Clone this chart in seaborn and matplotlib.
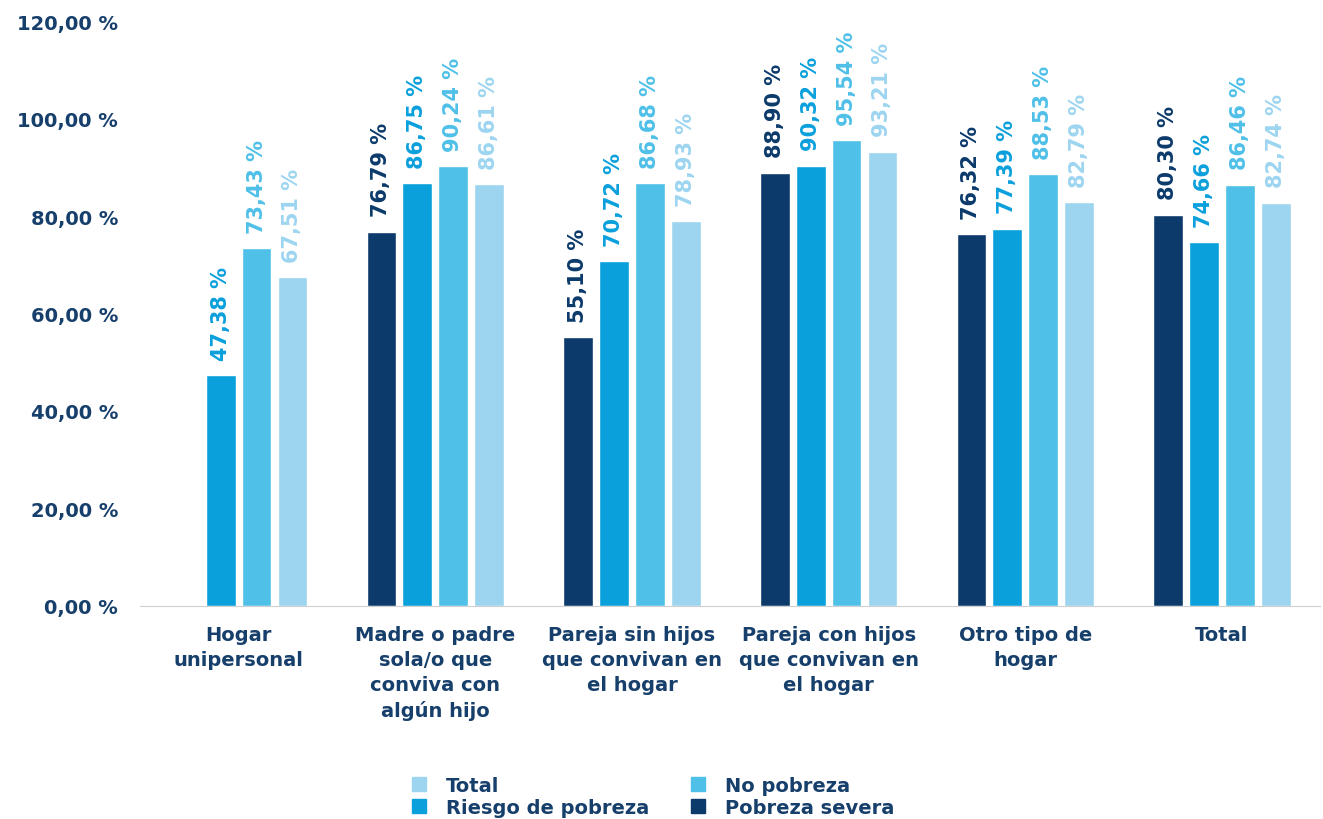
import pandas as pd
import matplotlib.pyplot as plt
import seaborn as sns
from matplotlib.lines import Line2D

# Data
categorias = ['Hogar\nunipersonal', 'Madre o padre\nsola/o que\nconviva con\nalgún hijo',
              'Pareja sin hijos\nque convivan en\nel hogar', 'Pareja con hijos\nque convivan en\nel hogar',
              'Otro tipo de\nhogar', 'Total']
pobreza_severa = [None, 76.79, 55.10, 88.90, 76.32, 80.30]
riesgo_pobreza = [47.38, 86.75, 70.72, 90.32, 77.39, 74.66]
no_pobreza = [73.43, 90.24, 86.68, 95.54, 88.53, 86.46]
total = [67.51, 86.61, 78.93, 93.21, 82.79, 82.74]
y_ticks = [0, 20, 40, 60, 80, 100, 120]

series = ['Pobreza severa', 'Riesgo de pobreza', 'No pobreza', 'Total']
colores = ['#0b3a6b', '#0aa0dc', '#4fc0e8', '#9dd5f0']
text_col = '#173f6b'
fs = 14

rows = []
for s, vals in zip(series, [pobreza_severa, riesgo_pobreza, no_pobreza, total]):
    for c, v in zip(categorias, vals):
        rows.append({'categoria': c, 'serie': s, 'valor': v})
df = pd.DataFrame(rows)

sns.set_style('white')
plt.rcParams['font.family'] = ['DejaVu Sans']
plt.rcParams['font.weight'] = 'bold'

fig = plt.figure(figsize=(13.23, 8.2), dpi=100)
ax = fig.add_axes([0.106, 0.26, 0.892, 0.713])

sns.barplot(data=df, x='categoria', y='valor', hue='serie', hue_order=series,
            order=categorias, palette=colores, width=0.73, gap=0.17,
            saturation=1, legend=False, ax=ax)

# Rotated value labels above each bar
for cont, col in zip(ax.containers, colores):
    labels = ['' if pd.isna(v) else f'{v:.2f} %'.replace('.', ',') for v in cont.datavalues]
    ax.bar_label(cont, labels=labels, rotation=90, padding=11, color=col,
                 fontsize=15, fontweight='bold')

ax.set_ylim(0, 120)
ax.set_xlim(-0.5, 5.5)
ax.set_yticks(y_ticks)
ax.set_yticklabels([f'{t},00 %' for t in y_ticks], fontsize=fs, color=text_col, fontweight='bold')
ax.set_xticks(range(len(categorias)))
ax.set_xticklabels(categorias, fontsize=fs, color=text_col, fontweight='bold', linespacing=1.38)
ax.tick_params(axis='both', length=0)
ax.tick_params(axis='y', pad=16)
ax.tick_params(axis='x', pad=14)
ax.set_xlabel('')
ax.set_ylabel('')
for side in ['top', 'right', 'left']:
    ax.spines[side].set_visible(False)
ax.spines['bottom'].set_color('#d0d0d0')

# Legend in the order shown on the chart
orden = ['Total', 'Riesgo de pobreza', 'No pobreza', 'Pobreza severa']
handles = [Line2D([], [], marker='s', linestyle='', markersize=10,
                  color=colores[series.index(n)]) for n in orden]
leg = fig.legend(handles, orden, loc='upper center', bbox_to_anchor=(0.492, 0.074), ncol=2,
                 frameon=False, fontsize=fs, columnspacing=1.9, handletextpad=0.8,
                 labelspacing=0.15, handlelength=1.2)
for t in leg.get_texts():
    t.set_color(text_col)
    t.set_fontweight('bold')

plt.savefig('out.png', dpi=100)
